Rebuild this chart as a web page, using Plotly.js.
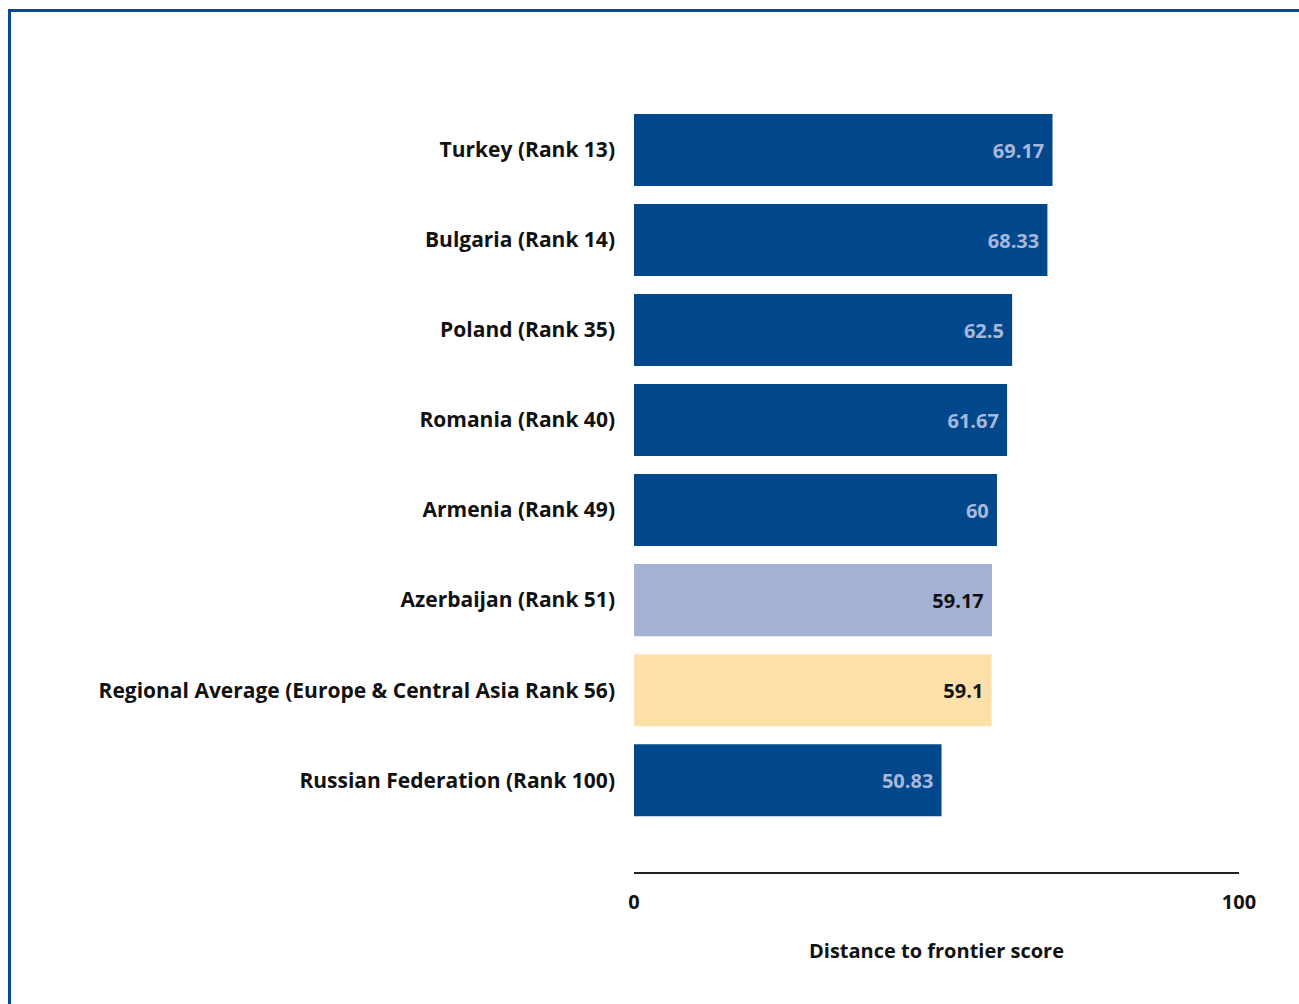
<!DOCTYPE html>
<html>
<head>
<meta charset="utf-8">
<script src="https://cdn.plot.ly/plotly-3.0.1.min.js"></script>
<style>
  html, body { margin: 0; padding: 0; background: #fff; }
  #frame {
    position: absolute; left: 8px; top: 9px; right: 0; bottom: 0;
    border-left: 3px solid #0b4a8f; border-top: 3px solid #0b4a8f;
  }
  #chart { position: absolute; left: 0; top: 0; width: 1299px; height: 1004px; }
</style>
</head>
<body>
<div id="frame"></div>
<div id="chart"></div>
<script>
// economies, bottom to top as plotted
const economies = [
  'Russian Federation (Rank 100)',
  'Regional Average (Europe & Central Asia Rank 56)',
  'Azerbaijan (Rank 51)',
  'Armenia (Rank 49)',
  'Romania (Rank 40)',
  'Poland (Rank 35)',
  'Bulgaria (Rank 14)',
  'Turkey (Rank 13)'
];
const scores = [50.83, 59.1, 59.17, 60, 61.67, 62.5, 68.33, 69.17];
const scoreLabels = ['50.83', '59.1', '59.17', '60', '61.67', '62.5', '68.33', '69.17'];
const xTicks = [0, 100];

const focusEconomy = 'Azerbaijan (Rank 51)';
const regionEconomy = 'Regional Average (Europe & Central Asia Rank 56)';

const barColors = economies.map(e =>
  e === focusEconomy ? '#a5b1d4' : e === regionEconomy ? '#fde0a9' : '#00478b');
const textColors = economies.map(e =>
  (e === focusEconomy || e === regionEconomy) ? '#111111' : '#a9b7da');

const font = 'Open Sans, Liberation Sans, sans-serif';

const trace = {
  type: 'bar',
  orientation: 'h',
  y: economies,
  x: scores,
  text: scoreLabels.map(s => s + ' '),
  textposition: 'inside',
  insidetextanchor: 'end',
  constraintext: 'none',
  textfont: { family: font, size: 20, color: textColors, weight: 700 },
  marker: { color: barColors, line: { width: 0 } },
  hoverinfo: 'x+y'
};

const layout = {
  width: 1299,
  height: 1004,
  margin: { l: 634, r: 60, t: 105, b: 132 },
  paper_bgcolor: 'rgba(0,0,0,0)',
  plot_bgcolor: 'rgba(0,0,0,0)',
  bargap: 0.2,
  showlegend: false,
  font: { family: font, color: '#111111' },
  xaxis: {
    range: [0, 100],
    tickvals: xTicks,
    ticktext: xTicks.map(String),
    showgrid: false,
    zeroline: false,
    showline: true,
    linecolor: '#222222',
    linewidth: 2,
    ticks: '',
    ticklabelstandoff: 11,
    tickfont: { family: font, size: 20, weight: 700, color: '#111111' },
    title: { text: 'Distance to frontier score', standoff: 30,
             font: { family: font, size: 20, weight: 700, color: '#111111' } }
  },
  yaxis: {
    range: [-1.02, 7.5],
    showgrid: false,
    zeroline: false,
    showline: false,
    ticks: '',
    ticklabelstandoff: 18,
    tickfont: { family: font, size: 21, weight: 700, color: '#111111' }
  }
};

Plotly.newPlot('chart', [trace], layout, { displayModeBar: false, staticPlot: true });
</script>
</body>
</html>
